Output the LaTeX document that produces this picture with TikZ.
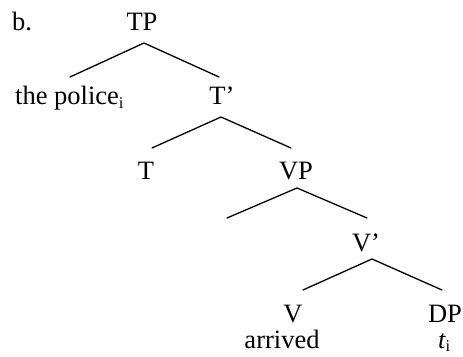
\documentclass[tikz,border=0pt]{standalone}
\usepackage{fontspec}
\setmainfont{Liberation Serif}
\newcommand{\subi}{\raisebox{-0.15em}{\fontsize{16.5}{16.5}\selectfont i}}
\begin{document}
\begin{tikzpicture}[x=1pt,y=1pt,
  lab/.style={inner sep=0pt,anchor=base,font=\fontsize{26.5}{31}\selectfont},
  branch/.style={line width=1.3pt,line cap=round}]
\useasboundingbox (0,0) rectangle (463,356);
% labels
\node[lab,anchor=base west] (b) at (12,325) {b.};
\node[lab] (TP) at (142,325) {TP};
\node[lab,anchor=base west] (police) at (15,251) {the police\subi};
\node[lab] (Tbar) at (222,251) {T’};
\node[lab] (T) at (146,176) {T};
\node[lab] (VP) at (296,176) {VP};
\node[lab] (Vbar) at (366,104) {V’};
\node[lab] (V) at (293,34) {V};
\node[lab] (DP) at (445,34) {DP};
\node[lab] (arrived) at (282,8) {arrived};
\node[lab,anchor=base west] (trace) at (438,8) {\itshape t\upshape\subi};
% branch points
\coordinate (TPtop) at (144,313);
\coordinate (TPl) at (70,279);
\coordinate (TPr) at (219,279);
\coordinate (Tbartop) at (221,239);
\coordinate (Tbarl) at (152,208);
\coordinate (Tbarr) at (291,208);
\coordinate (VPtop) at (297,168);
\coordinate (VPl) at (227,138);
\coordinate (VPr) at (367,138);
\coordinate (Vbartop) at (372,97);
\coordinate (Vbarl) at (303,66);
\coordinate (Vbarr) at (442,66);
% branches
\draw[branch] (TPl) -- (TPtop) -- (TPr);
\draw[branch] (Tbarl) -- (Tbartop) -- (Tbarr);
\draw[branch] (VPl) -- (VPtop) -- (VPr);
\draw[branch] (Vbarl) -- (Vbartop) -- (Vbarr);
\end{tikzpicture}
\end{document}
